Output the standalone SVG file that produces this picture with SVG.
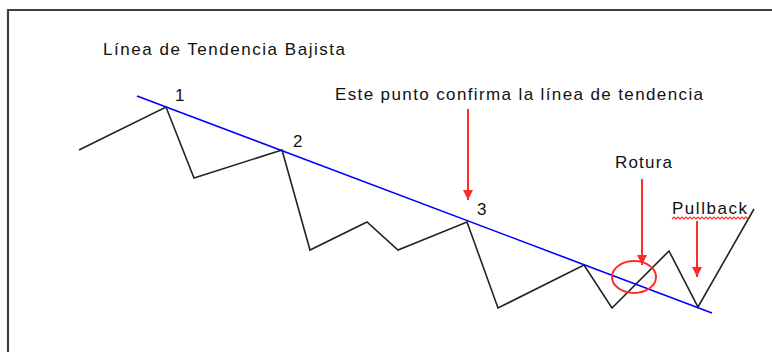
<svg xmlns="http://www.w3.org/2000/svg" width="772" height="352" viewBox="0 0 772 352">
<defs>
<style>
.t{font-family:"Liberation Sans",Arial,sans-serif;font-size:17px;fill:#111}
.r{stroke:#ff2a2a;stroke-width:2;fill:none}
</style>
<marker id="ah" markerWidth="12" markerHeight="10" refX="10" refY="5" orient="auto" markerUnits="userSpaceOnUse" viewBox="0 0 10 10">
<path d="M0,0 L10,5 L0,10 Z" fill="#ff2a2a"/>
</marker>
</defs>
<rect width="772" height="352" fill="#fff"/>
<path id="frame" d="M8,352 V10 H772" fill="none" stroke="#404040" stroke-width="2.2"/>
<g id="title"><text class="t" x="103" y="55" textLength="242" lengthAdjust="spacing">Línea de Tendencia Bajista</text></g>
<g id="price"><polyline points="79,150 166,107 194,178 282,150 310,250 367,222 398,250 467,222 498,308 584,265 612,308 669,251 698,307 754,209" fill="none" stroke="#222" stroke-width="1.6"/></g>
<g id="trendline"><line x1="137" y1="96" x2="712" y2="313" stroke="#0000ff" stroke-width="1.6"/></g>
<g id="p1"><text class="t" x="175" y="101">1</text></g>
<g id="p2"><text class="t" x="293" y="147">2</text></g>
<g id="p3"><text class="t" x="477" y="215">3</text></g>
<g id="confirm"><text class="t" x="335" y="100" textLength="368" lengthAdjust="spacing">Este punto confirma la línea de tendencia</text></g>
<g id="rotura"><text class="t" x="615" y="168" textLength="57" lengthAdjust="spacing">Rotura</text>
<ellipse cx="634" cy="277" rx="22" ry="16" class="r" stroke-width="1.6"/></g>
<g id="pullback"><text class="t" x="672" y="214" textLength="75" lengthAdjust="spacing">Pullback</text>
<polyline points="672,219 674,217 676,219 678,217 680,219 682,217 684,219 686,217 688,219 690,217 692,219 694,217 696,219 698,217 700,219 702,217 704,219 706,217 708,219 710,217 712,219 714,217 716,219 718,217 720,219 722,217 724,219 726,217 728,219 730,217 732,219 734,217 736,219 738,217 740,219 742,217 744,219 746,217 748,219" fill="none" stroke="#ff2a2a" stroke-width="1.2"/></g>
<g id="connectors">
<line class="r" x1="468" y1="109" x2="468" y2="200" marker-end="url(#ah)"/>
<line class="r" x1="642" y1="179" x2="642" y2="265" marker-end="url(#ah)"/>
<line class="r" x1="697" y1="221" x2="697" y2="277" marker-end="url(#ah)"/>
</g>
</svg>
